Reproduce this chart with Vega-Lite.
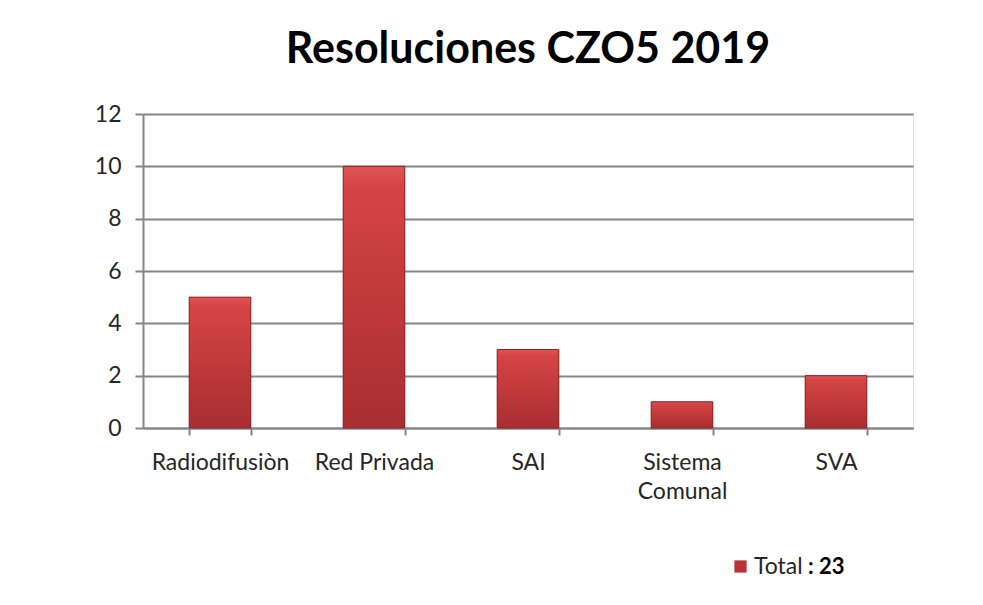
{
  "$schema": "https://vega.github.io/schema/vega-lite/v6.json",
  "width": 770,
  "height": 314,
  "autosize": {"type": "none"},
  "padding": {"left": 143, "top": 114, "right": 70, "bottom": 177},
  "background": "white",
  "title": {
    "text": "Resoluciones CZO5 2019",
    "font": "Lato",
    "fontSize": 43,
    "fontWeight": "bold",
    "color": "#000000",
    "anchor": "middle",
    "offset": 31
  },
  "data": {
    "values": [
      {"categoria": "Radiodifusiòn", "valor": 5, "serie": "Total"},
      {"categoria": "Red Privada", "valor": 10, "serie": "Total"},
      {"categoria": "SAI", "valor": 3, "serie": "Total"},
      {"categoria": "Sistema Comunal", "valor": 1, "serie": "Total"},
      {"categoria": "SVA", "valor": 2, "serie": "Total"}
    ]
  },
  "encoding": {
    "x": {
      "field": "categoria",
      "type": "nominal",
      "sort": null,
      "title": null,
      "scale": {"paddingInner": 0.6, "paddingOuter": 0.3},
      "axis": {
        "labelAngle": 0,
        "labelFont": "Lato",
        "labelFontSize": 23,
        "labelColor": "#262626",
        "labelPadding": 16,
        "labelLineHeight": 29,
        "labelExpr": "datum.value == 'Sistema Comunal' ? ['Sistema', 'Comunal'] : datum.value",
        "tickBand": "extent",
        "tickSize": 7,
        "tickColor": "#868686",
        "tickWidth": 2,
        "domainColor": "#868686",
        "domainWidth": 2,
        "grid": false
      }
    },
    "y": {
      "field": "valor",
      "type": "quantitative",
      "title": null,
      "scale": {"domain": [0, 12], "nice": false},
      "axis": {
        "values": [0, 2, 4, 6, 8, 10, 12],
        "labelFont": "Lato",
        "labelFontSize": 23,
        "labelColor": "#262626",
        "labelPadding": 14,
        "tickSize": 8,
        "tickColor": "#868686",
        "tickWidth": 2,
        "domainColor": "#868686",
        "domainWidth": 2,
        "grid": true,
        "gridColor": "#868686",
        "gridWidth": 2
      }
    }
  },
  "layer": [
    {
      "mark": {"type": "bar", "cornerRadius": 0},
      "encoding": {
        "color": {
          "field": "serie",
          "type": "nominal",
          "scale": {"range": ["#B83335"]},
          "legend": {
            "orient": "none",
            "legendX": 586,
            "legendY": 441,
            "direction": "horizontal",
            "title": ":  23",
            "titleOrient": "right",
            "titleFont": "Lato",
            "titleFontSize": 22,
            "titleFontWeight": "bold",
            "titleColor": "#000000",
            "titlePadding": 5,
            "labelFont": "Lato",
            "labelFontSize": 23,
            "labelColor": "#262626",
            "labelOffset": 2,
            "symbolType": "square",
            "symbolSize": 150,
            "symbolStrokeWidth": 0
          }
        }
      }
    },
    {
      "mark": {
        "type": "bar",
        "stroke": "#8E2224",
        "strokeWidth": 1,
        "color": {
          "gradient": "linear",
          "x1": 0, "y1": 0, "x2": 0, "y2": 1,
          "stops": [
            {"offset": 0, "color": "#E05557"},
            {"offset": 0.08, "color": "#D54446"},
            {"offset": 1, "color": "#A82E30"}
          ]
        }
      },
      "encoding": {}
    }
  ]
}
